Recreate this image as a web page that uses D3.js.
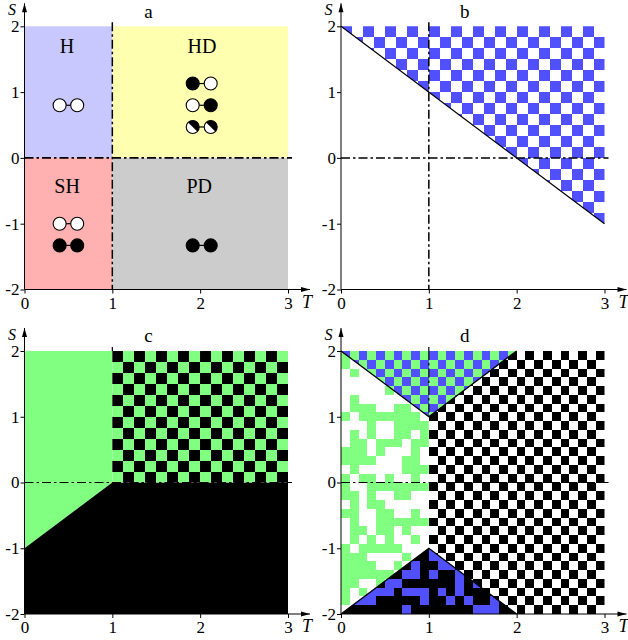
<!DOCTYPE html>
<html><head><meta charset="utf-8">
<script src="https://cdn.jsdelivr.net/npm/d3@7"></script>
<style>html,body{margin:0;padding:0;background:#fff}svg{display:block}text{font-family:"Liberation Serif",serif;fill:#000}</style>
</head><body><svg id="c" width="628" height="640"></svg>
<script>
const tTicks=[0,1,2,3], sTicks=[2,1,0,-1,-2];
const sLabels=["2","1","0","-1","-2"];
const panelNames=["a","b","c","d"];
const colors={w:"#ffffff",k:"#000000",g:"#80ff80",b:"#5050ff",".":"#ffffff"};

// panel a
const quadT0=[0,1,0,1], quadT1=[1,3,1,3], quadS0=[0,0,-2,-2], quadS1=[2,2,0,0];
const quadFill=["#c8c8ff","#ffffb0","#ffb0b0","#cccccc"];
const quadName=["H","HD","SH","PD"];
const quadNameT=[0.485,2.02,0.485,1.99], quadNameS=[1.595,1.595,-0.54,-0.54];
const pairT0=[0.4,1.915,1.915,1.915,0.4,0.4,1.915];
const pairT1=[0.6,2.12,2.12,2.12,0.6,0.6,2.12];
const pairS=[0.8,1.13,0.8,0.47,-1,-1.33,-1.33];
const pairLeft=["w","k","w","h","w","k","k"];
const pairRight=["w","w","k","h","w","k","k"];

// panel b: 24x24 lattice, blue / white
const bRows=[
"b.b.b.b.b.b.b.b.b.b.b.b.",".b.b.b.b.b.b.b.b.b.b.b.b",
"b.b.b.b.b.b.b.b.b.b.b.b.",".b.b.b.b.b.b.b.b.b.b.b.b",
"b.b.b.b.b.b.b.b.b.b.b.b.",".b.b.b.b.b.b.b.b.b.b.b.b",
"b.b.b.b.b.b.b.b.b.b.b.b.",".b.b.b.b.b.b.b.b.b.b.b.b",
"b.b.b.b.b.b.b.b.b.b.b.b.",".b.b.b.b.b.b.b.b.b.b.b.b",
"b.b.b.b.b.b.b.b.b.b.b.b.",".b.b.b.b.b.b.b.b.b.b.b.b",
"b.b.b.b.b.b.b.b.b.b.b.b.",".b.b.b.b.b.b.b.b.b.b.b.b",
"b.b.b.b.b.b.b.b.b.b.b.b.",".b.b.b.b.b.b.b.b.b.b.b.b",
"b.b.b.b.b.b.b.b.b.b.b.b.",".b.b.b.b.b.b.b.b.b.b.b.b"];
const bRegionT=[0,3,3], bRegionS=[2,2,-1];

// panel c: 24x24 lattice, columns 8..23, rows 0..11
const cRows=[
"kgkgkgkgkgkgkgkg","gkgkgkgkgkgkgkgk","kgkgkgkgkgkgkgkg","gkgkgkgkgkgkgkgk",
"kgkgkgkgkgkgkgkg","gkgkgkgkgkgkgkgk","kgkgkgkgkgkgkgkg","gkgkgkgkgkgkgkgk",
"kgkgkgkgkgkgkgkg","gkgkgkgkgkgkgkgk","kgkgkgkgkgkgkgkg","gkgkgkgkgkgkgkgk"];
const cGreenT=[0,1,1,0], cGreenS=[2,2,0,-1];
const cBlackT=[0,1,3,3,0], cBlackS=[-1,0,0,-2,-2];

// panel d: 30x30 lattice
const dLeftRows=[
"g.........","g.........",".g........","..........",".....g....",
".g........",".ggg..gg..","g.ggggggg.","...g..gggg",".g.g..gg.g",
".gg.ggg.gg","ggg.g...g.","gggg...gg.",".g.....ggg","g.gg.g..g.",
"g..ggggggg","gg.g..gg..",".g.gg.....","gg..gg..g.",".g..gggggg",
".gg.gg.g..",".g.g.g..g.","g.ggggg...","ggg....g..","gggg..g...",
"gggggg....","gg..g.....","g.g.......","g.........",".........."];
const dTopRows=[
"bgbgbgbgbgbgbgbgbgbg","gbgbgbgbgbgbgbgbgbgb","bgbgbgbgbgbgbgbgbgbg","gbgbgbgbgbgbgbgbgbgb",
"bgbgbgbgbgbgbgbgbgbg","gbgbgbgbgbgbgbgbgbgb","bgbgbgbgbgbgbgbgbgbg","gbgbgbgbgbgbgbgbgbgb"];
const dBottomRows=[
"kkkkkkkkkkbkkkkkkkkkk",
"kkkkkkkkkkbbkkkkkkkkk",
"kkkkkkkkbkkbbkkkkkkkk",
"kkkkkkkbbkbkkbkkkkkkk",
"kkkkkbbkkkkkkbkbkkkkk",
"kkkbbbkbbbkbkbkkkkkkk",
"kbbbkkkkkbkkbkbkkbkkk",
"kkkkkkkbkkkkkkkbbbkkk"];
const dRightRows=[
".k.k.k.k.k.k.k.k.k.k","k.k.k.k.k.k.k.k.k.k.",".k.k.k.k.k.k.k.k.k.k","k.k.k.k.k.k.k.k.k.k.",
".k.k.k.k.k.k.k.k.k.k","k.k.k.k.k.k.k.k.k.k.",".k.k.k.k.k.k.k.k.k.k","k.k.k.k.k.k.k.k.k.k.",
".k.k.k.k.k.k.k.k.k.k","k.k.k.k.k.k.k.k.k.k.",".k.k.k.k.k.k.k.k.k.k","k.k.k.k.k.k.k.k.k.k.",
".k.k.k.k.k.k.k.k.k.k","k.k.k.k.k.k.k.k.k.k.",".k.k.k.k.k.k.k.k.k.k","k.k.k.k.k.k.k.k.k.k.",
".k.k.k.k.k.k.k.k.k.k","k.k.k.k.k.k.k.k.k.k.",".k.k.k.k.k.k.k.k.k.k","k.k.k.k.k.k.k.k.k.k.",
".k.k.k.k.k.k.k.k.k.k","k.k.k.k.k.k.k.k.k.k.",".k.k.k.k.k.k.k.k.k.k","k.k.k.k.k.k.k.k.k.k.",
".k.k.k.k.k.k.k.k.k.k","k.k.k.k.k.k.k.k.k.k.",".k.k.k.k.k.k.k.k.k.k","k.k.k.k.k.k.k.k.k.k.",
".k.k.k.k.k.k.k.k.k.k","k.k.k.k.k.k.k.k.k.k."];
const dLeftT=[0,1,1,0], dLeftS=[2,1,-1,-2];
const dTopT=[0,2,1], dTopS=[2,2,1];
const dBottomT=[0,2,1], dBottomS=[-2,-2,-1];
const dRightT=[1,2,3,3,2,1], dRightS=[1,2,2,-2,-2,-1];

const svg=d3.select("#c");
const defs=svg.append("defs");
const panels=[
 {n:0,left:24.5,right:288,top:26.3,bottom:289.5},
 {n:1,left:341,right:604.5,top:26.3,bottom:289.5},
 {n:2,left:24.5,right:288,top:351,bottom:614},
 {n:3,left:341,right:604.5,top:351,bottom:614}];
panels.forEach(p=>{
  p.x=d3.scaleLinear().domain([0,3]).range([p.left,p.right]);
  p.y=d3.scaleLinear().domain([-2,2]).range([p.bottom,p.top]);
  p.g=svg.append("g");
});
const line=d3.line();
function poly(p,ts,ss){return line(ts.map((t,i)=>[p.x(t),p.y(ss[i])]))+"Z";}
let clipId=0;
function grid(p,rows,N,col0,row0,ts,ss){
  const id="cl"+(clipId++);
  defs.append("clipPath").attr("id",id).append("path").attr("d",poly(p,ts,ss));
  const cells=[];
  rows.forEach((r,i)=>[...r].forEach((ch,j)=>{ if(ch!=="."){cells.push({c:j+col0,r:i+row0,v:ch});} }));
  const cx=d3.scaleLinear().domain([0,N]).range(p.x.range());
  const cy=d3.scaleLinear().domain([0,N]).range([p.top,p.bottom]);
  p.g.append("g").attr("clip-path","url(#"+id+")").selectAll("rect").data(cells).join("rect")
    .attr("x",d=>cx(d.c)).attr("y",d=>cy(d.r))
    .attr("width",d=>cx(d.c+1)-cx(d.c)).attr("height",d=>cy(d.r+1)-cy(d.r))
    .attr("fill",d=>colors[d.v]).attr("shape-rendering","crispEdges");
}
function path(p,ts,ss,attrs){
  const e=p.g.append("path").attr("d",line(ts.map((t,i)=>[p.x(t),p.y(ss[i])]))).attr("fill","none").attr("stroke","#000");
  Object.entries(attrs||{}).forEach(([k,v])=>e.attr(k,v));
  return e;
}
const DASH="9 3 2.5 3";
function hDash(p,w){p.g.append("line").attr("x1",p.x(0)).attr("x2",p.x(3)+4).attr("y1",p.y(0)).attr("y2",p.y(0)).attr("stroke","#000").attr("stroke-width",w).attr("stroke-dasharray",DASH);}
function vDash(p,s0,w){p.g.append("line").attr("x1",p.x(1)).attr("x2",p.x(1)).attr("y1",p.y(2)-4).attr("y2",p.y(s0)).attr("stroke","#000").attr("stroke-width",w).attr("stroke-dasharray",DASH);}

// --- a
const A=panels[0];
quadName.forEach((nm,i)=>{
  A.g.append("rect").attr("x",A.x(quadT0[i])).attr("y",A.y(quadS1[i]))
    .attr("width",A.x(quadT1[i])-A.x(quadT0[i])).attr("height",A.y(quadS0[i])-A.y(quadS1[i])).attr("fill",quadFill[i]);
});
hDash(A,1.6);vDash(A,-2,1.5);
quadName.forEach((nm,i)=>{
  A.g.append("text").attr("x",A.x(quadNameT[i])).attr("y",A.y(quadNameS[i])).attr("text-anchor","middle").attr("font-size",20).text(nm);
});
const R=6.5, halfArc=d3.arc().innerRadius(0).outerRadius(R).startAngle(-Math.PI/4).endAngle(3*Math.PI/4);
function disc(x,y,kind){
  A.g.append("circle").attr("cx",x).attr("cy",y).attr("r",R).attr("fill",kind==="k"?"#000":"#fff").attr("stroke","#000").attr("stroke-width",1.1);
  if(kind==="h"){A.g.append("path").attr("d",halfArc()).attr("transform","translate("+x+","+y+")").attr("fill","#000");}
}
pairS.forEach((s,i)=>{
  A.g.append("line").attr("x1",A.x(pairT0[i])).attr("x2",A.x(pairT1[i])).attr("y1",A.y(s)).attr("y2",A.y(s)).attr("stroke","#000").attr("stroke-width",1.2);
  disc(A.x(pairT0[i]),A.y(s),pairLeft[i]);
  disc(A.x(pairT1[i]),A.y(s),pairRight[i]);
});

// --- b
const B=panels[1];
grid(B,bRows,24,0,0,bRegionT,bRegionS);
hDash(B,1.5);vDash(B,-2,1.5);
path(B,[bRegionT[0],bRegionT[2]],[bRegionS[0],bRegionS[2]],{"stroke-width":1.2});

// --- c
const C=panels[2];
vDash(C,2,1.2);
C.g.append("path").attr("d",poly(C,cGreenT,cGreenS)).attr("fill",colors.g);
C.g.append("path").attr("d",poly(C,cBlackT,cBlackS)).attr("fill",colors.k);
grid(C,cRows,24,8,0,[1,3,3,1],[2,2,0,0]);
hDash(C,1);

// --- d
const D=panels[3];
vDash(D,2,1.2);
grid(D,dLeftRows,30,0,0,dLeftT,dLeftS);
grid(D,dRightRows,30,10,0,dRightT,dRightS);
grid(D,dTopRows,30,0,0,dTopT,dTopS);
grid(D,dBottomRows,30,0,22,dBottomT,dBottomS);
hDash(D,1);
D.g.append("line").attr("x1",D.x(1)).attr("x2",D.x(1)).attr("y1",D.y(2)).attr("y2",D.y(1)).attr("stroke","#000").attr("stroke-width",1.2).attr("stroke-dasharray",DASH);
path(D,[0,1,2],[2,1,2],{"stroke-width":1.4});
path(D,[0,1,2],[-2,-1,-2],{"stroke-width":1.4});

// --- axes
panels.forEach(p=>{
  const ax=p.g.append("g").attr("transform","translate(0,"+p.bottom+")")
    .call(d3.axisBottom(p.x).tickValues(tTicks).tickFormat(d=>String(d)).tickSize(4).tickPadding(3));
  const ay=p.g.append("g").attr("transform","translate("+p.left+",0)")
    .call(d3.axisLeft(p.y).tickValues(sTicks).tickFormat((d,i)=>sLabels[i]).tickSize(4).tickPadding(1));
  [ax,ay].forEach(a=>{a.select(".domain").remove();a.selectAll("text").attr("font-family","Liberation Serif").attr("font-size",17).attr("fill","#000");a.selectAll("line").attr("stroke","#000");});
  const xEnd=p.right+22, yEnd=p.top-23;
  p.g.append("line").attr("x1",p.left).attr("x2",xEnd).attr("y1",p.bottom).attr("y2",p.bottom).attr("stroke","#000");
  p.g.append("line").attr("x1",p.left).attr("x2",p.left).attr("y1",p.bottom).attr("y2",yEnd).attr("stroke","#000");
  p.g.append("path").attr("d",line([[xEnd,p.bottom],[xEnd-9,p.bottom-2.5],[xEnd-9,p.bottom+2.5]])+"Z").attr("fill","#000");
  p.g.append("path").attr("d",line([[p.left,yEnd],[p.left-2.5,yEnd+9],[p.left+2.5,yEnd+9]])+"Z").attr("fill","#000");
  p.g.append("text").attr("x",xEnd-3).attr("y",p.bottom+18).attr("text-anchor","middle").attr("font-style","italic").attr("font-size",18).text("T");
  p.g.append("text").attr("x",p.left-12.5).attr("y",p.top-11.3).attr("text-anchor","middle").attr("font-style","italic").attr("font-size",16).text("S");
  p.g.append("text").attr("x",p.x(1.41)).attr("y",p.top-8.6).attr("text-anchor","middle").attr("font-size",19).text(panelNames[p.n]);
});
</script></body></html>
